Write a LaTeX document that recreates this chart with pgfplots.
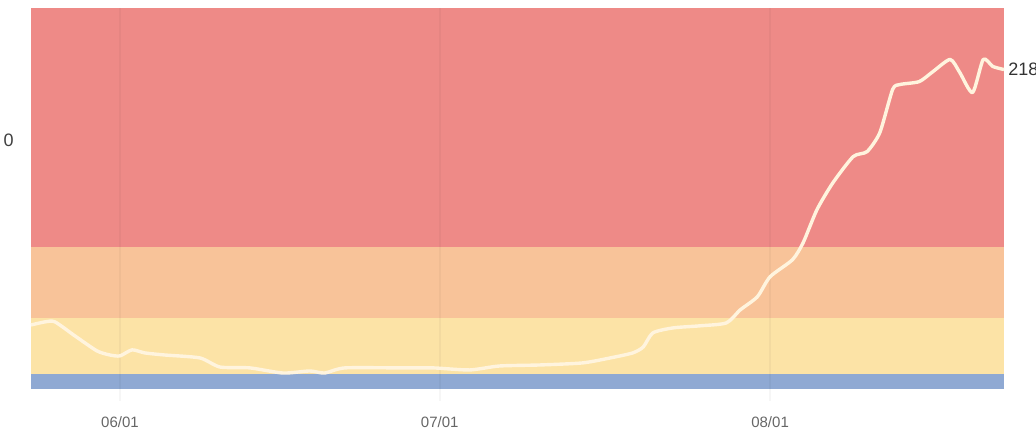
\documentclass[border=0pt]{standalone}
\usepackage{fontspec}
\setmainfont{Liberation Sans}
\usepackage{pgfplots}
\pgfplotsset{compat=1.18}
\usetikzlibrary{calc}
\definecolor{bandred}{HTML}{EE8A87}
\definecolor{bandorange}{HTML}{F8C399}
\definecolor{bandyellow}{HTML}{FCE3A6}
\definecolor{bandblue}{HTML}{8FA9D3}
\definecolor{linecol}{HTML}{FFF4DE}
\begin{document}
\begin{tikzpicture}
\begin{axis}[
  name=ax,
  scale only axis,
  width=486.5pt, height=190.5pt,
  xmin=-8.35, xmax=82.95,
  ymin=0, ymax=260,
  axis line style={draw=none},
  tick style={draw=none},
  xtick={0,30,61},
  xticklabels={06/01,07/01,08/01},
  xticklabel style={font=\fontsize{7.5}{9}\selectfont, text=black!60, anchor=center, yshift=-16.5pt},
  ytick=\empty,
  clip=false,
  /pgf/number format/assume math mode=true,
]
\addplot[fill=bandblue, draw=none] coordinates {(-8.35,0) (82.95,0) (82.95,10) (-8.35,10)} -- cycle;
\addplot[fill=bandyellow, draw=none] coordinates {(-8.35,10) (82.95,10) (82.95,48.5) (-8.35,48.5)} -- cycle;
\addplot[fill=bandorange, draw=none] coordinates {(-8.35,48.5) (82.95,48.5) (82.95,97) (-8.35,97)} -- cycle;
\addplot[fill=bandred, draw=none] coordinates {(-8.35,97) (82.95,97) (82.95,260) (-8.35,260)} -- cycle;
% faint vertical grid lines at the month ticks
\addplot[black, opacity=0.035, line width=1.2pt] coordinates {(0,-8) (0,260)};
\addplot[black, opacity=0.035, line width=1.2pt] coordinates {(30,-8) (30,260)};
\addplot[black, opacity=0.035, line width=1.2pt] coordinates {(61,-8) (61,260)};
\addplot[linecol, line width=1.7pt, smooth, tension=0.4, line join=round] coordinates {
(-8.35,43.7) (-7.04,45.8) (-6.10,45.8) (-4.22,36.2) (-2.16,26.0) (-0.94,23.2)
(0,22.6) (1.13,26.7) (2.35,24.6) (4.22,23.2) (7.50,21.2) (9.38,15.0)
(12.2,14.4) (15.3,10.9) (17.8,12.3) (19.2,10.9) (21.1,14.4) (26.3,14.4)
(29.4,14.4) (32.8,13.0) (35.6,15.7) (39.4,16.4) (43.4,17.8) (46.0,21.2)
(48.1,24.6) (49.1,28.7) (50.0,38.3) (51.9,41.7) (54.4,43.1) (56.9,45.1)
(58.2,54.0) (59.8,62.9) (61.0,76.6) (63.1,88.2) (64.1,99.8) (65.4,122.4)
(66.9,140.8) (68.8,158.6) (70.1,162.0) (71.3,175.0) (72.5,204.4) (73.2,207.8)
(75.0,209.8) (76.3,216.7) (77.9,224.9) (78.8,216.0) (80.0,202.3) (81.0,224.9)
(81.9,220.1) (82.95,218)
};
\node[anchor=west, font=\fontsize{9}{10}\selectfont, text=black!80, inner sep=0pt, xshift=2pt] at (axis cs:82.95,218) {218};
\node[anchor=east, font=\fontsize{9}{10}\selectfont, text=black!75, inner sep=0pt, xshift=-8.5pt] at (axis cs:-8.35,170) {0};
\end{axis}
\pgfresetboundingbox
\path[use as bounding box] ($(ax.south west)+(-15.5pt,-22pt)$) rectangle ($(ax.north east)+(16pt,4pt)$);
\end{tikzpicture}
\end{document}
